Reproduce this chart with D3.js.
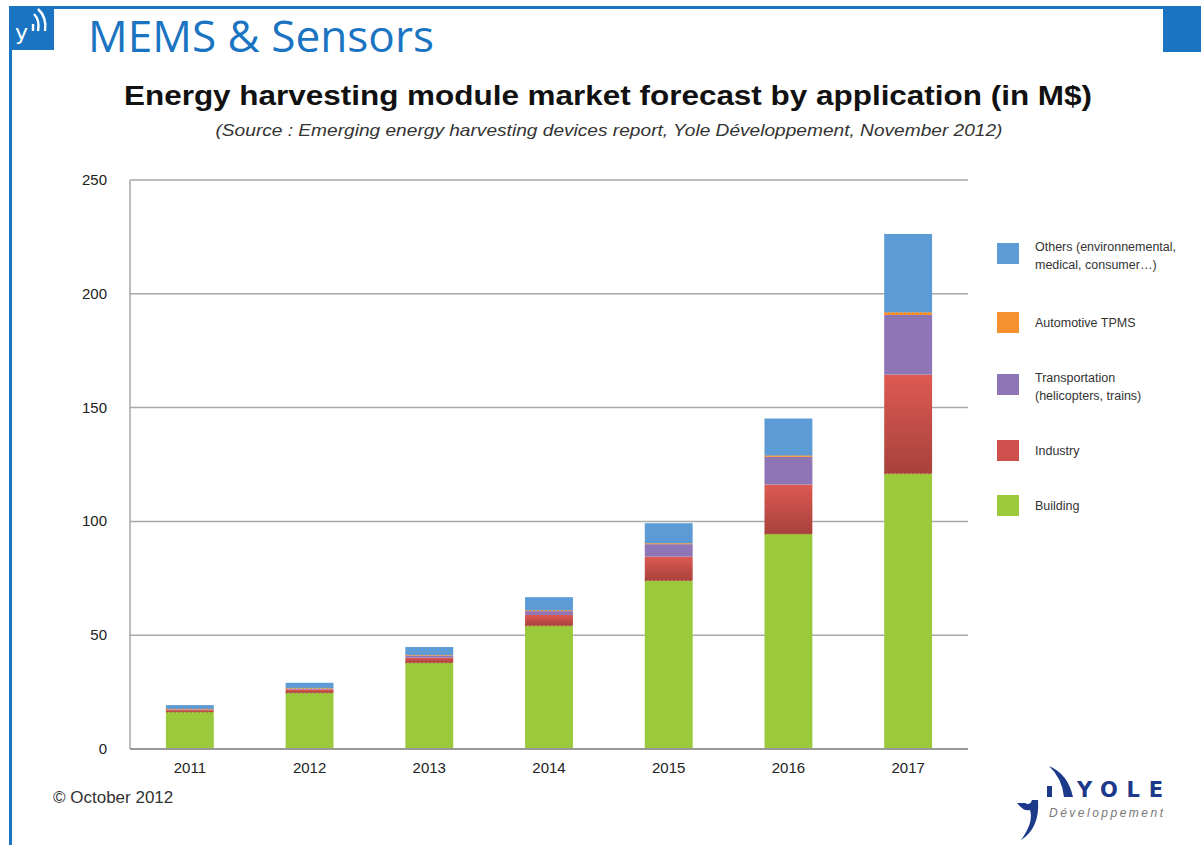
<!DOCTYPE html>
<html>
<head>
<meta charset="utf-8">
<script src="https://cdn.jsdelivr.net/npm/d3@7"></script>
<style>
  body { margin: 0; background: #fff; }
  svg { display: block; font-family: "Liberation Sans", Arial, sans-serif; }
</style>
</head>
<body>
<div id="container"></div>
<script>
/* ---------------- DATA ---------------- */
const years = ["2011", "2012", "2013", "2014", "2015", "2016", "2017"];
const building       = [16.3, 24.7, 37.9, 54.2, 74.0, 94.5, 121.0];
const industry       = [0.8, 1.5, 2.2, 4.7, 10.5, 21.7, 43.5];
const transportation = [0.3, 0.3, 0.9, 1.7, 5.5, 12.2, 26.2];
const tpms           = [0.1, 0.1, 0.1, 0.2, 0.3, 0.4, 1.0];
const others         = [1.8, 2.5, 3.7, 5.9, 8.9, 16.4, 34.6];
const yTicks = [0, 50, 100, 150, 200, 250];

const seriesKeys = ["building", "industry", "transportation", "tpms", "others"];
const seriesData = { building, industry, transportation, tpms, others };
const legendLabels = {
  others: ["Others (environnemental,", "medical, consumer…)"],
  tpms: ["Automotive TPMS"],
  transportation: ["Transportation", "(helicopters, trains)"],
  industry: ["Industry"],
  building: ["Building"]
};

const colors = {
  building: "#9ac93c",
  industry: "url(#redGrad)",
  transportation: "#8e76b6",
  tpms: "#f7902f",
  others: "#5c9bd6"
};
const swatch = { ...colors, industry: "#cf4f4c" };

/* ---------------- SETUP ---------------- */
const W = 1201, H = 845;
const svg = d3.select("#container").append("svg")
  .attr("width", W).attr("height", H);

const defs = svg.append("defs");
const rg = defs.append("linearGradient").attr("id", "redGrad")
  .attr("x1", 0).attr("y1", 0).attr("x2", 0).attr("y2", 1);
rg.append("stop").attr("offset", "0%").attr("stop-color", "#dd5a52");
rg.append("stop").attr("offset", "100%").attr("stop-color", "#a8413c");

/* ---------------- FRAME ---------------- */
const blue = "#1a74c2";
svg.append("rect").attr("x", 9).attr("y", 6).attr("width", 1160).attr("height", 3).attr("fill", blue);
svg.append("rect").attr("x", 9).attr("y", 6).attr("width", 3).attr("height", 839).attr("fill", blue);
svg.append("rect").attr("x", 9).attr("y", 6).attr("width", 45).attr("height", 44).attr("fill", blue);
svg.append("rect").attr("x", 1163).attr("y", 6).attr("width", 38).attr("height", 46).attr("fill", blue);

// little logo glyph in the top-left square
svg.append("text").attr("x", 15).attr("y", 40)
  .attr("fill", "#fff").attr("font-size", 22).attr("font-family", "DejaVu Sans")
  .text("y");
svg.append("path").attr("d", "M33,31 L33,24 M38,31 Q40,20 34,14 M45,31 Q47,17 38,9")
  .attr("stroke", "#fff").attr("stroke-width", 2.4).attr("fill", "none");

svg.append("text").attr("x", 88).attr("y", 52)
  .attr("fill", blue).attr("font-size", 43)
  .attr("font-family", "'Open Sans', sans-serif")
  .attr("textLength", 346).attr("lengthAdjust", "spacingAndGlyphs")
  .text("MEMS & Sensors");

/* ---------------- TITLES ---------------- */
svg.append("text").attr("x", 608).attr("y", 105)
  .attr("text-anchor", "middle").attr("font-weight", "bold").attr("font-size", 27)
  .attr("fill", "#111")
  .attr("textLength", 968).attr("lengthAdjust", "spacingAndGlyphs")
  .text("Energy harvesting module market forecast by application (in M$)");

svg.append("text").attr("x", 609).attr("y", 136)
  .attr("text-anchor", "middle").attr("font-style", "italic").attr("font-size", 17)
  .attr("fill", "#333")
  .attr("textLength", 787).attr("lengthAdjust", "spacingAndGlyphs")
  .text("(Source : Emerging energy harvesting devices report, Yole Développement, November 2012)");

/* ---------------- SCALES ---------------- */
const mLeft = 130, mRight = 968, mTop = 180, mBottom = 749;

const x = d3.scaleBand().domain(years).range([mLeft, mRight]).paddingInner(0.6).paddingOuter(0.3);
const y = d3.scaleLinear().domain([0, 250]).range([mBottom, mTop]);

// gridlines
svg.append("g")
  .selectAll("line").data(yTicks.filter(d => d > 0)).enter().append("line")
  .attr("x1", mLeft).attr("x2", mRight)
  .attr("y1", d => y(d)).attr("y2", d => y(d))
  .attr("stroke", "#a9a9a9").attr("stroke-width", 1.5);

/* ---------------- BARS ---------------- */
const rows = years.map((yr, i) => {
  const r = { year: yr };
  seriesKeys.forEach(k => r[k] = seriesData[k][i]);
  return r;
});
const stacked = d3.stack().keys(seriesKeys)(rows);

const layers = svg.append("g").selectAll("g").data(stacked).enter().append("g")
  .attr("fill", d => colors[d.key]);

layers.selectAll("rect").data(d => d).enter().append("rect")
  .attr("x", d => x(d.data.year))
  .attr("width", x.bandwidth())
  .attr("y", d => y(d[1]))
  .attr("height", d => Math.max(0, y(d[0]) - y(d[1])));

// dotted orange TPMS edge line and dashed industry edge, like the original
svg.append("g").selectAll("line").data(stacked[3]).enter().append("line")
  .attr("x1", d => x(d.data.year)).attr("x2", d => x(d.data.year) + x.bandwidth())
  .attr("y1", d => y(d[1])).attr("y2", d => y(d[1]))
  .attr("stroke", "#f7902f").attr("stroke-width", 1.2).attr("stroke-dasharray", "2,2");
svg.append("g").selectAll("line").data(stacked[1]).enter().append("line")
  .attr("x1", d => x(d.data.year)).attr("x2", d => x(d.data.year) + x.bandwidth())
  .attr("y1", d => y(d[0])).attr("y2", d => y(d[0]))
  .attr("stroke", "#b8453f").attr("stroke-width", 1).attr("stroke-dasharray", "2,2");

/* ---------------- AXES ---------------- */
svg.append("line").attr("x1", mLeft).attr("x2", mLeft).attr("y1", mTop).attr("y2", mBottom)
  .attr("stroke", "#a9a9a9").attr("stroke-width", 1.5);
svg.append("line").attr("x1", mLeft).attr("x2", mRight).attr("y1", mBottom).attr("y2", mBottom)
  .attr("stroke", "#999").attr("stroke-width", 2);

svg.append("g").selectAll("text").data(yTicks).enter().append("text")
  .attr("x", 107).attr("y", d => y(d) + 5)
  .attr("text-anchor", "end").attr("font-size", 15).attr("fill", "#222")
  .text(d => d);

svg.append("g").selectAll("text").data(years).enter().append("text")
  .attr("x", d => x(d) + x.bandwidth() / 2).attr("y", 773)
  .attr("text-anchor", "middle").attr("font-size", 15).attr("fill", "#222")
  .text(d => d);

/* ---------------- LEGEND ---------------- */
const legendOrder = ["others", "tpms", "transportation", "industry", "building"];
const legendY = { others: 243, tpms: 312, transportation: 374, industry: 440, building: 495 };

const lg = svg.append("g").selectAll("g").data(legendOrder).enter().append("g")
  .attr("transform", d => `translate(997,${legendY[d]})`);
lg.append("rect").attr("width", 22).attr("height", 21).attr("fill", d => swatch[d]);
lg.each(function (d) {
  const lines = legendLabels[d];
  const g = d3.select(this);
  const y0 = lines.length > 1 ? 8 : 15;
  lines.forEach((t, i) => {
    g.append("text").attr("x", 38).attr("y", y0 + i * 18)
      .attr("font-size", 12.5).attr("fill", "#333").text(t);
  });
});

/* ---------------- FOOTER ---------------- */
svg.append("text").attr("x", 53).attr("y", 803)
  .attr("font-size", 17).attr("fill", "#333").text("© October 2012");

// Yole logo
const logo = svg.append("g").attr("fill", "#1d3a8a");
logo.append("path")
  .attr("d", "M1017,803 Q1024,812 1030,810 Q1034,822 1021,840 Q1040,828 1038,800 L1032,800 Q1030,806 1025,803 Z");
logo.append("rect").attr("x", 1047).attr("y", 786).attr("width", 5).attr("height", 11);
logo.append("path").attr("d", "M1049,766 Q1068,774 1073,797 L1064,797 Q1062,778 1049,766 Z");
logo.append("text").attr("x", 1077).attr("y", 797)
  .attr("font-size", 21).attr("font-weight", "bold")
  .attr("font-family", "'DejaVu Sans', sans-serif")
  .attr("textLength", 86).attr("lengthAdjust", "spacing").text("YOLE");
svg.append("text").attr("x", 1049).attr("y", 817)
  .attr("font-size", 12).attr("font-style", "italic").attr("fill", "#777")
  .attr("textLength", 114).attr("lengthAdjust", "spacing").text("Développement");
</script>
</body>
</html>
